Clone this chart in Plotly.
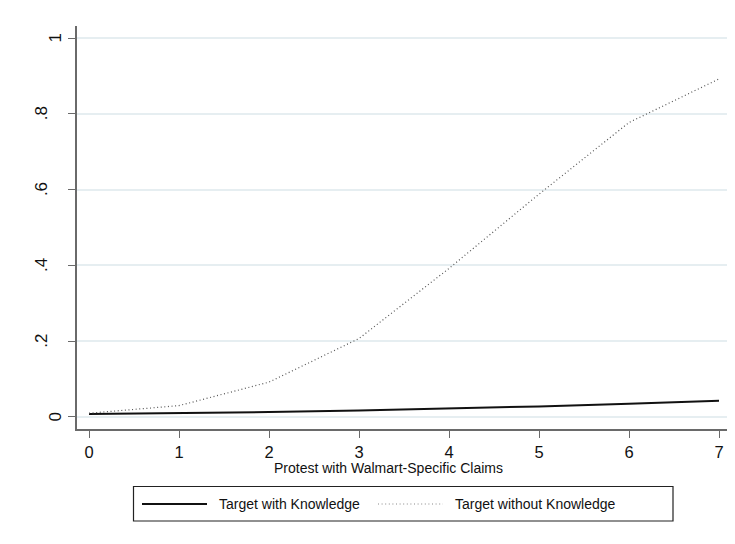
import plotly.graph_objects as go

# ---- data ----
protests = [0, 1, 2, 3, 4, 5, 6, 7]
with_knowledge = [0.008, 0.010, 0.013, 0.017, 0.022, 0.028, 0.035, 0.043]
without_knowledge = [0.010, 0.030, 0.092, 0.207, 0.392, 0.588, 0.777, 0.892]
x_ticks = [0, 1, 2, 3, 4, 5, 6, 7]
y_ticks = [0, 0.2, 0.4, 0.6, 0.8, 1.0]
y_tick_labels = ["0", ".2", ".4", ".6", ".8", "1"]
x_title = "Protest with Walmart-Specific Claims"
series_names = ["Target with Knowledge", "Target without Knowledge"]

FONT = "Arial, 'Liberation Sans', sans-serif"
OFF = 8  # page body margin
W, H = 735 - OFF, 544 - OFF
L, R, T = 77 - OFF, W - (731 - OFF), 26 - OFF
B = H - (429 - OFF)
PW, PH = W - L - R, H - T - B


def px_x(p):
    """window pixel x -> paper"""
    return (p - OFF - L) / PW


def px_y(p):
    """window pixel y -> paper"""
    return ((H - B) - (p - OFF)) / PH


fig = go.Figure()
fig.add_trace(go.Scatter(x=protests, y=with_knowledge, mode="lines",
                         line=dict(color="#111111", width=2),
                         name=series_names[0], showlegend=False))
fig.add_trace(go.Scatter(x=protests, y=without_knowledge, mode="lines",
                         line=dict(color="#555555", width=1.2, dash="1px,2.6px"),
                         name=series_names[1], showlegend=False))

grid_col = "#e6eef1"
axis_col = "#6a6a6a"

fig.update_xaxes(range=[-0.1333, 7.1333], tickvals=x_ticks, ticks="outside",
                 ticklen=7, tickwidth=1.2, tickcolor=axis_col,
                 showline=True, linecolor=axis_col, linewidth=1.5,
                 showgrid=False, zeroline=False,
                 tickfont=dict(family=FONT, size=16.5, color="#111"),
                 ticklabelstandoff=0)
fig.update_yaxes(range=[-0.0317, 1.0317], tickvals=y_ticks, ticks="outside",
                 ticklen=7, tickwidth=1.2, tickcolor=axis_col,
                 showline=True, linecolor=axis_col, linewidth=1.5,
                 showgrid=True, gridcolor=grid_col, gridwidth=1.5,
                 zeroline=False, showticklabels=False)

ann = []
# rotated y tick labels
for v, lab in zip(y_ticks, y_tick_labels):
    shift = -35.5 if "." in lab else -21.5
    ann.append(dict(x=0, xref="paper", y=v, yref="y", text=lab, textangle=-90,
                    showarrow=False, xanchor="center", yanchor="middle",
                    xshift=shift, font=dict(family=FONT, size=17, color="#111")))
# x axis title
ann.append(dict(x=px_x(388), xref="paper", y=px_y(468), yref="paper",
                text=x_title, showarrow=False, xanchor="center", yanchor="middle",
                font=dict(family=FONT, size=14, color="#111")))

shapes = []
# outer frame (light)
shapes.append(dict(type="rect", xref="paper", yref="paper",
                   x0=px_x(7), x1=px_x(760), y0=px_y(6), y1=px_y(560),
                   line=dict(color="#e6eef1", width=1.2), layer="below"))
# legend box
shapes.append(dict(type="rect", xref="paper", yref="paper",
                   x0=px_x(133.5), x1=px_x(673), y0=px_y(486.5), y1=px_y(521),
                   line=dict(color="#222", width=1.2)))
# legend keys
shapes.append(dict(type="line", xref="paper", yref="paper",
                   x0=px_x(142), x1=px_x(207), y0=px_y(504), y1=px_y(504),
                   line=dict(color="#111111", width=2)))
shapes.append(dict(type="line", xref="paper", yref="paper",
                   x0=px_x(378), x1=px_x(443), y0=px_y(504), y1=px_y(504),
                   line=dict(color="#888888", width=1, dash="1px,2.6px")))
ann.append(dict(x=px_x(217), xref="paper", y=px_y(504), yref="paper",
                text=series_names[0], showarrow=False, xanchor="left", yanchor="middle",
                font=dict(family=FONT, size=14, color="#111")))
ann.append(dict(x=px_x(453), xref="paper", y=px_y(504), yref="paper",
                text=series_names[1], showarrow=False, xanchor="left", yanchor="middle",
                font=dict(family=FONT, size=14, color="#111")))

fig.update_layout(width=W, height=H, margin=dict(l=L, r=R, t=T, b=B),
                  paper_bgcolor="white", plot_bgcolor="white",
                  annotations=ann, shapes=shapes, showlegend=False)

fig.write_html("out.html")
